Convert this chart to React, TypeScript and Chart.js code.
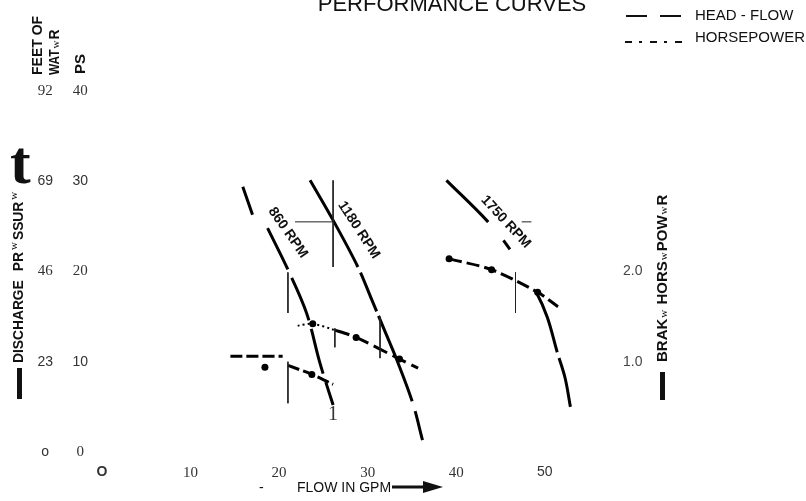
import React, { useEffect, useRef } from "react";
import { Chart, registerables } from "chart.js";

Chart.register(...registerables);

const SANS = '"Liberation Sans", Arial, Helvetica, sans-serif';
const SERIF = '"Liberation Serif", "Times New Roman", serif';

// ---------- texts ----------
const TITLE = "PERFORMANCE CURVES";
const LEGEND_LABELS = ["HEAD - FLOW", "HORSEPOWER"];
const X_TITLE = "FLOW IN GPM";

// ---------- ticks ----------
const flowTicks = [0, 10, 20, 30, 40, 50];
const flowTickLabels = ["O", "10", "20", "30", "40", "50"];
const psTicks = [0, 10, 20, 30, 40];
const psTickLabels = ["0", "10", "20", "30", "40"];
const feetTicks = [0, 23, 46, 69, 92];
const feetTickLabels = ["o", "23", "46", "69", "92"];
const bhpTicks = [1, 2];
const bhpTickLabels = ["1.0", "2.0"];

// ---------- head - flow curves (GPM, PS); null = break ----------
const head860Flow = [15.9, 17.0, null, 18.7, 21.0, 23.1, 24.6, 26.1];
const head860Ps = [29.4, 26.3, null, 24.8, 20.2, 15.4, 9.9, 5.2];
const head1180Flow = [23.5, 26.2, 28.9, 30.5, 31.9, 33.3, 35.1, 36.2];
const head1180Ps = [30.1, 25.5, 20.5, 16.8, 13.5, 10.2, 5.4, 1.3];
const head1750Flow = [38.9, 43.6, 46.1, 49.1, 50.3, 51.4, 52.3, 52.9];
const head1750Ps = [30.1, 25.5, 22.4, 17.6, 14.9, 11.1, 8.2, 5.0];

// ---------- horsepower curves (GPM, BHP) ----------
const hp860Flow = [14.5, 20.4, null, 21.0, 23.7, 26.1];
const hp860Bhp = [1.06, 1.06, null, 0.96, 0.86, 0.75];
const hp1180Flow = [22.1, 23.8, 26.3, 28.7, 33.6, 35.7];
const hp1180Bhp = [1.4, 1.42, 1.35, 1.27, 1.03, 0.93];
const hp1750Flow = [39.2, 44.0, 49.2, 51.5];
const hp1750Bhp = [2.14, 2.02, 1.77, 1.61];

// marked operating points on the horsepower curves
const dotFlow = [18.4, 23.7, 23.8, 28.7, 33.6, 39.2, 44.0, 49.2];
const dotBhp = [0.94, 0.86, 1.42, 1.27, 1.03, 2.14, 2.02, 1.77];

// thin reference lines (GPM, PS); null = break
const refFlow = [21.0, 21.0, null, 21.0, 21.0, null, 26.1, 26.1, null, 21.8, 26.1, null, 31.4, 31.4, null, 26.3, 26.3, null, 46.7, 46.7, null, 47.4, 48.5];
const refPs = [19.9, 15.4, null, 10.0, 5.4, null, 30.1, 20.5, null, 25.5, 25.5, null, 15.0, 10.4, null, 13.7, 11.6, null, 19.9, 15.4, null, 25.5, 25.5];

// speed labels along curves
const speedLabels = ["860 RPM", "1180 RPM", "1750 RPM"];
const speedLabelFlow = [21.0, 29.0, 45.6];
const speedLabelPs = [24.3, 24.6, 25.5];
const speedLabelAngle = [55, 57, 47];

// stray mark
const markText = "1";
const markFlow = 26.1;
const markPs = 4.1;

function pts(xs: (number | null)[], ys: (number | null)[]) {
  let last = 0;
  return xs.map((x, i) => {
    const y = ys[i];
    if (x === null || y === null) return { x: last, y: null as any };
    last = x;
    return { x, y };
  });
}

type Part = { t: string; font: string; sx?: number; dy?: number; gap?: number };
function run(ctx: CanvasRenderingContext2D, x: number, y: number, ang: number, parts: Part[]) {
  ctx.save();
  ctx.translate(x, y);
  ctx.rotate(ang);
  ctx.textAlign = "left";
  ctx.textBaseline = "alphabetic";
  let cur = 0;
  for (const p of parts) {
    cur += p.gap || 0;
    ctx.font = p.font;
    const sx = p.sx ?? 1;
    const w = ctx.measureText(p.t).width * sx;
    ctx.save();
    ctx.translate(cur, p.dy || 0);
    ctx.scale(sx, 1);
    ctx.fillText(p.t, 0, 0);
    ctx.restore();
    cur += w;
  }
  ctx.restore();
}

const decor = {
  id: "decor",
  afterDraw(chart: any) {
    const ctx: CanvasRenderingContext2D = chart.ctx;
    const xs = chart.scales.x;
    const ys = chart.scales.ps;
    ctx.save();
    ctx.fillStyle = "#111";
    ctx.strokeStyle = "#111";

    // title (partly cut at the top)
    ctx.font = `22px ${SANS}`;
    ctx.textAlign = "center";
    ctx.textBaseline = "alphabetic";
    ctx.fillText(TITLE, 452, 11);

    // legend
    ctx.font = `15px ${SANS}`;
    ctx.textAlign = "left";
    ctx.textBaseline = "middle";
    ctx.fillText(LEGEND_LABELS[0], 695, 16);
    ctx.fillText(LEGEND_LABELS[1], 695, 38);
    ctx.lineWidth = 1.8;
    ctx.setLineDash([21, 13]);
    ctx.beginPath();
    ctx.moveTo(626, 16);
    ctx.lineTo(681, 16);
    ctx.stroke();
    ctx.setLineDash([7, 7, 3, 8]);
    ctx.beginPath();
    ctx.moveTo(625, 42);
    ctx.lineTo(683, 42);
    ctx.stroke();
    ctx.setLineDash([]);

    const B15 = `bold 15px ${SANS}`;
    const B14 = `bold 14px ${SANS}`;
    const W = `11px ${SERIF}`;
    const up = -Math.PI / 2;

    // left axis titles
    run(ctx, 42, 75, up, [{ t: "FEET OF", font: B14 }]);
    run(ctx, 59, 75, up, [{ t: "WAT", font: B14, sx: 0.85 }, { t: "w", font: W, gap: 1 }, { t: "R", font: B14, gap: 1 }]);
    run(ctx, 85, 74, up, [{ t: "PS", font: B15 }]);
    run(ctx, 23, 363, up, [
      { t: "DISCHARGE", font: B15, sx: 0.92 },
      { t: "PR", font: B15, sx: 0.92, gap: 9 },
      { t: "w", font: W, dy: -6, gap: 2 },
      { t: "SSUR", font: B15, sx: 0.92, gap: 2 },
      { t: "w", font: W, dy: -6, gap: 2 },
    ]);
    ctx.font = `bold 62px ${SERIF}`;
    ctx.textAlign = "left";
    ctx.textBaseline = "alphabetic";
    ctx.fillText("t", 10, 183);
    ctx.fillRect(17, 368, 5, 31);

    // right axis title
    run(ctx, 667, 362, up, [
      { t: "BRAK", font: B15 },
      { t: "w", font: W, gap: 1 },
      { t: " HORS", font: B15, gap: 1 },
      { t: "w", font: W, gap: 1 },
      { t: "POW", font: B15, gap: 1 },
      { t: "w", font: W, gap: 1 },
      { t: "R", font: B15, gap: 1 },
    ]);
    ctx.fillRect(660, 372, 5, 28);

    // x axis title with arrow
    ctx.font = `14px ${SANS}`;
    ctx.textAlign = "left";
    ctx.textBaseline = "alphabetic";
    ctx.fillText("-", 259, 492);
    ctx.fillText(X_TITLE, 297, 492);
    ctx.lineWidth = 3;
    ctx.beginPath();
    ctx.moveTo(392, 487);
    ctx.lineTo(426, 487);
    ctx.stroke();
    ctx.beginPath();
    ctx.moveTo(423, 481);
    ctx.lineTo(443, 487);
    ctx.lineTo(423, 493);
    ctx.closePath();
    ctx.fill();

    // speed labels
    ctx.font = `bold 14px ${SANS}`;
    ctx.textAlign = "center";
    ctx.textBaseline = "middle";
    speedLabels.forEach((s, i) => {
      ctx.save();
      ctx.translate(xs.getPixelForValue(speedLabelFlow[i]), ys.getPixelForValue(speedLabelPs[i]));
      ctx.rotate((speedLabelAngle[i] * Math.PI) / 180);
      ctx.fillText(s, 0, 0);
      ctx.restore();
    });

    ctx.font = `20px ${SERIF}`;
    ctx.fillStyle = "#333";
    ctx.fillText(markText, xs.getPixelForValue(markFlow), ys.getPixelForValue(markPs));
    ctx.restore();
  },
};

const mixFont = (serifIdx: number[], boldIdx: number[] = []) => (c: any) => {
  const serif = serifIdx.includes(c.index);
  return {
    family: serif ? SERIF : SANS,
    size: serif ? 15 : 14,
    weight: boldIdx.includes(c.index) ? "bold" : "normal",
  };
};

const noGrid = { display: false, drawTicks: false };
const noBorder = { display: false };

export default function App() {
  const ref = useRef<HTMLCanvasElement | null>(null);
  useEffect(() => {
    if (!ref.current) return;
    const black = "#000";
    const chart = new Chart(ref.current, {
      type: "line",
      data: {
        datasets: [
          {
            label: "ref",
            data: pts(refFlow, refPs),
            yAxisID: "ps",
            borderColor: "#222",
            borderWidth: 1,
            pointRadius: 0,
            tension: 0,
          },
          {
            label: "860 RPM",
            data: pts(head860Flow, head860Ps),
            yAxisID: "ps",
            borderColor: black,
            borderWidth: 3,
            borderDash: [46, 9],
            pointRadius: 0,
            tension: 0.35,
          },
          {
            label: "1180 RPM",
            data: pts(head1180Flow, head1180Ps),
            yAxisID: "ps",
            borderColor: black,
            borderWidth: 3,
            borderDash: [99, 6, 42, 5, 92, 10, 30, 60],
            pointRadius: 0,
            tension: 0.35,
          },
          {
            label: "1750 RPM",
            data: pts(head1750Flow, head1750Ps),
            yAxisID: "ps",
            borderColor: black,
            borderWidth: 3,
            borderDash: [59, 24, 11, 51, 63, 6, 51, 60],
            pointRadius: 0,
            tension: 0.35,
          },
          {
            label: "HP 860",
            data: pts(hp860Flow, hp860Bhp),
            yAxisID: "bhp",
            borderColor: black,
            borderWidth: 3,
            borderDash: [12, 4],
            pointRadius: 0,
            tension: 0.3,
          },
          {
            label: "HP 1180",
            data: pts(hp1180Flow, hp1180Bhp),
            yAxisID: "bhp",
            borderColor: black,
            borderWidth: 3,
            borderDash: [15, 6],
            pointRadius: 0,
            tension: 0.3,
            segment: {
              borderDash: (c: any) => (c.p0DataIndex < 2 ? [2, 3] : [15, 6]),
              borderWidth: (c: any) => (c.p0DataIndex < 2 ? 2 : 3),
            },
          },
          {
            label: "HP 1750",
            data: pts(hp1750Flow, hp1750Bhp),
            yAxisID: "bhp",
            borderColor: black,
            borderWidth: 3,
            borderDash: [13, 5],
            pointRadius: 0,
            tension: 0.3,
          },
          {
            label: "points",
            data: pts(dotFlow, dotBhp),
            yAxisID: "bhp",
            showLine: false,
            pointRadius: 3.5,
            pointBackgroundColor: black,
            pointBorderWidth: 0,
          },
        ] as any,
      },
      options: {
        responsive: false,
        animation: false,
        events: [],
        layout: { padding: { top: 91, left: 0, right: 0, bottom: 0 } },
        plugins: { legend: { display: false }, tooltip: { enabled: false }, title: { display: false } },
        scales: {
          x: {
            type: "linear",
            position: "bottom",
            min: 0,
            max: 55,
            grid: noGrid,
            border: noBorder,
            afterBuildTicks: (s: any) => {
              s.ticks = flowTicks.map((v) => ({ value: v }));
            },
            afterFit: (s: any) => {
              s.height = 49;
            },
            ticks: {
              autoSkip: false,
              maxRotation: 0,
              padding: 12,
              color: "#333",
              font: mixFont([1, 2, 3, 4], [0]) as any,
              callback: (_v: any, i: number) => flowTickLabels[i],
            },
          },
          ps: {
            type: "linear",
            position: "left",
            weight: 0,
            min: 0,
            max: 40,
            grid: noGrid,
            border: noBorder,
            afterBuildTicks: (s: any) => {
              s.ticks = psTicks.map((v) => ({ value: v }));
            },
            afterFit: (s: any) => {
              s.width = 37;
            },
            ticks: {
              autoSkip: false,
              crossAlign: "center",
              padding: 14,
              color: "#333",
              font: mixFont([0, 2, 4]) as any,
              callback: (_v: any, i: number) => psTickLabels[i],
            },
          },
          feet: {
            type: "linear",
            position: "left",
            weight: 1,
            min: 0,
            max: 92,
            grid: noGrid,
            border: noBorder,
            afterBuildTicks: (s: any) => {
              s.ticks = feetTicks.map((v) => ({ value: v }));
            },
            afterFit: (s: any) => {
              s.width = 65;
            },
            ticks: {
              autoSkip: false,
              crossAlign: "center",
              padding: 12,
              color: "#333",
              font: mixFont([2, 4]) as any,
              callback: (_v: any, i: number) => feetTickLabels[i],
            },
          },
          bhp: {
            type: "linear",
            position: "right",
            min: 0,
            max: 4,
            grid: noGrid,
            border: noBorder,
            afterBuildTicks: (s: any) => {
              s.ticks = bhpTicks.map((v) => ({ value: v }));
            },
            afterFit: (s: any) => {
              s.width = 217;
            },
            ticks: {
              autoSkip: false,
              crossAlign: "center",
              padding: 34,
              color: "#444",
              font: { family: SANS, size: 14 },
              callback: (_v: any, i: number) => bhpTickLabels[i],
            },
          },
        },
      } as any,
      plugins: [decor],
    });
    return () => chart.destroy();
  }, []);

  return (
    <div style={{ position: "absolute", left: 0, top: 0, width: 806, height: 501, background: "#fff" }}>
      <canvas ref={ref} width={806} height={501} style={{ display: "block" }} />
    </div>
  );
}
